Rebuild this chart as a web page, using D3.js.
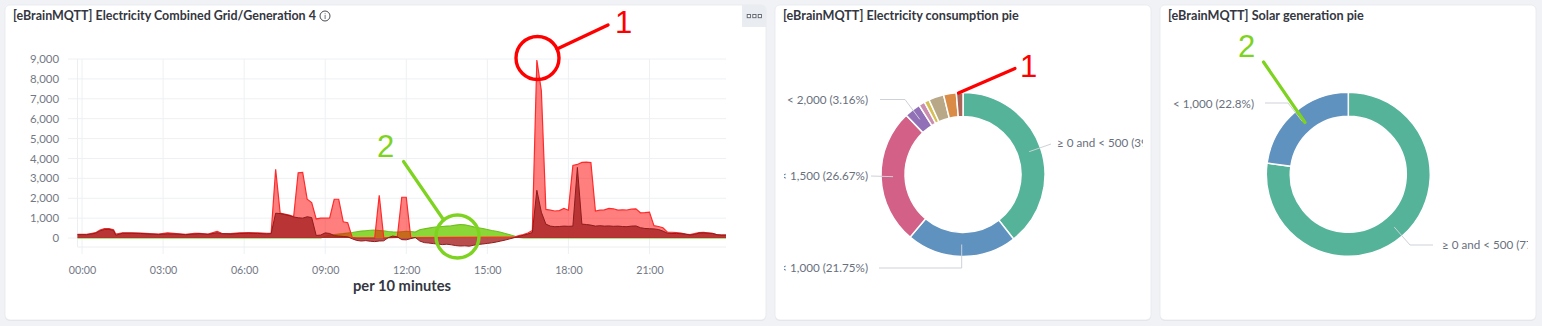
<!DOCTYPE html>
<html><head><meta charset="utf-8">
<script src="https://cdn.jsdelivr.net/npm/d3@7"></script>
<style>
html,body{margin:0;padding:0;background:#f0f2f5;}
svg{display:block;}
</style></head><body>
<svg id="c" width="1542" height="326"></svg>
<script>
// ---------------- DATA ----------------
const yTickValues = [0,1000,2000,3000,4000,5000,6000,7000,8000,9000];
const xTickLabels = ["00:00","03:00","06:00","09:00","12:00","15:00","18:00","21:00"];

// Grid (dark red) – time / value pairs
const gridTimes = ["-00:10","00:10","00:20","00:30","00:40","00:50","01:00","01:10","01:15","01:30","01:50","02:10","02:30","02:50","03:10","03:30","03:50","04:10","04:20","04:40","05:00","05:10","05:30","05:50","06:10","06:30","06:50","07:00","07:10","07:20","07:30","07:40","07:50","08:00","08:10","08:20","08:30","08:40","08:50","09:00","09:10","09:20","09:30","09:40","09:50","10:00","10:10","10:20","10:30","10:40","10:50","11:00","11:10","11:20","11:30","11:40","11:50","12:00","12:10","12:20","12:30","12:40","12:50","13:00","13:10","13:20","13:30","13:40","13:50","14:00","14:10","14:20","14:30","14:40","14:50","15:00","15:10","15:20","15:30","15:40","15:50","16:00","16:10","16:20","16:30","16:40","16:50","17:00","17:10","17:20","17:30","17:40","17:50","18:00","18:10","18:20","18:30","18:40","18:50","19:00","19:10","19:20","19:30","19:40","19:50","20:00","20:10","20:20","20:30","20:40","20:50","21:00","21:10","21:20","21:30","21:40","21:50","22:00","22:10","22:20","22:30","22:40","22:50","23:00","23:10","23:20","23:30","23:40","23:50"];
const gridValues = [170,170,200,240,360,430,440,380,140,240,240,230,200,180,210,200,170,200,220,180,270,220,200,230,240,230,210,220,1250,1230,1180,1130,1060,1020,1000,1070,1030,130,150,260,230,120,100,80,60,-40,-120,-150,-130,-160,-180,-150,-140,20,100,60,-80,-90,-30,30,-150,-230,-250,-280,-300,-330,-310,-340,-380,-400,-390,-410,-360,-320,-300,-270,-240,-200,-150,-100,-40,20,80,140,200,280,2400,1300,700,600,570,580,600,590,600,3550,700,680,650,600,620,600,610,590,600,580,570,600,610,520,480,470,460,430,350,240,230,230,220,200,150,180,250,260,240,230,170,150,150];

// Consumption (light red)
const consTimes = ["-00:10","00:10","00:20","00:30","00:40","00:50","01:00","01:10","01:15","01:30","01:50","02:10","02:30","02:50","03:10","03:30","03:50","04:10","04:20","04:40","05:00","05:10","05:30","05:50","06:10","06:30","06:50","07:00","07:10","07:20","07:30","07:40","07:50","08:00","08:10","08:20","08:30","08:40","08:50","09:00","09:10","09:20","09:30","09:40","09:50","10:00","10:10","10:50","11:00","11:10","11:40","11:50","12:00","12:10","16:00","16:10","16:20","16:30","16:40","16:50","17:00","17:10","17:20","17:30","17:40","17:50","18:00","18:10","18:20","18:30","18:40","18:50","19:00","19:10","19:20","19:30","19:40","19:50","20:00","20:10","20:20","20:30","20:40","20:50","21:00","21:10","21:20","21:30","21:40","21:50","22:00","22:10","22:20","22:30","22:40","22:50","23:00","23:10","23:20","23:30","23:40","23:50"];
const consValues = [190,190,230,270,400,470,470,420,200,260,260,250,220,200,260,220,190,230,240,200,340,240,220,260,270,260,240,240,3450,1250,1200,1150,1080,3280,3300,1950,1780,960,1000,1000,1010,1950,1950,820,770,30,10,10,2150,10,30,2050,2050,20,50,120,170,250,380,8950,7400,1440,1400,1360,1380,1490,1400,3650,3700,3800,3820,3790,1360,1400,1420,1490,1470,1400,1420,1410,1450,1470,1270,1280,1300,620,580,520,300,290,270,250,200,170,220,270,280,260,240,160,150,150];

// Generation (green)
const genTimes = ["-00:10","08:50","09:00","09:10","09:20","09:30","09:40","09:50","10:00","10:10","10:20","10:30","10:40","10:50","11:00","11:10","11:20","11:30","11:40","11:50","12:00","12:10","12:20","12:30","12:40","12:50","13:00","13:10","13:20","13:30","13:40","13:50","14:00","14:10","14:20","14:30","14:40","14:50","15:00","15:10","15:20","15:30","15:40","15:50","16:00","16:10","16:20","23:50"];
const genValues = [0,0,80,150,180,200,220,250,280,320,350,370,390,400,380,360,330,310,300,320,340,330,300,420,460,500,540,560,580,600,620,650,680,660,620,560,520,480,430,380,340,290,230,170,100,30,0,0];

// Pies
const consPieCategories = ["≥ 0 and < 500","< 1,000","< 1,500","< 2,000","< 2,500","< 3,000","< 3,500","< 4,000","≥ 4,000"];
const consPieValues = [39.42,21.75,26.67,3.16,1.2,1.0,3.0,2.5,1.3];
const solarPieCategories = ["≥ 0 and < 500","< 1,000"];
const solarPieValues = [77.2,22.8];
const pieColors = ["#54b399","#6092c0","#d36086","#9170b8","#ca8eae","#d6bf57","#b9a888","#da8b45","#aa6556"];

const titles = ["[eBrainMQTT] Electricity Combined Grid/Generation 4","[eBrainMQTT] Electricity consumption pie","[eBrainMQTT] Solar generation pie"];

// ---------------- DRAW ----------------
const svg = d3.select("#c");
const FONT = "Lato, 'Open Sans', sans-serif";
function fit(sel, w){
  const n = sel.node(); const cur = n.getComputedTextLength();
  const fs = parseFloat(sel.attr("font-size"));
  if (cur>0) sel.attr("font-size", (fs*w/cur).toFixed(2));
  return parseFloat(sel.attr("font-size"));
}

// panels
const panels = [{x:5,y:5,w:761,h:315},{x:775,y:5,w:376,h:315},{x:1160,y:5,w:376,h:315}];
svg.selectAll("rect.shadow").data(panels).join("rect").attr("class","shadow")
  .attr("x",d=>d.x).attr("y",d=>d.y+1).attr("width",d=>d.w).attr("height",d=>d.h).attr("rx",5).attr("fill","#e1e4e9");
svg.selectAll("rect.panel").data(panels).join("rect").attr("class","panel")
  .attr("x",d=>d.x).attr("y",d=>d.y).attr("width",d=>d.w).attr("height",d=>d.h).attr("rx",5)
  .attr("fill","#fff").attr("stroke","#e6e9ee").attr("stroke-width",0.8);

// titles
const titlePos = [{x:13,w:303},{x:783,w:236},{x:1168,w:196}];
titles.forEach((t,i)=>{
  const s = svg.append("text").attr("x",titlePos[i].x).attr("y",20).attr("font-family",FONT)
    .attr("font-weight",700).attr("font-size",12).attr("fill","#343741").text(t);
  fit(s,titlePos[i].w);
});
// info icon
svg.append("circle").attr("cx",325).attr("cy",16).attr("r",5).attr("fill","none").attr("stroke","#343741").attr("stroke-width",0.9);
svg.append("text").attr("x",325).attr("y",19.3).attr("text-anchor","middle").attr("font-family","DejaVu Sans").attr("font-size",7.5).attr("fill","#343741").text("i");
// menu button
const mb = svg.append("g");
mb.append("path").attr("d","M742,5 H761 Q766,5 766,10 V27 H742 Z").attr("fill","#e9ecf1");
[746.7,752.3,757.7].forEach(x=>mb.append("rect").attr("x",x+0.5).attr("y",14.5).attr("width",3.2).attr("height",3.2)
  .attr("fill","#fff").attr("stroke","#5a606b").attr("stroke-width",0.9));

// --- Line/area chart ---
const base = new Date(2024,0,1,0,0);
function parseT(s){ const neg = s[0]==="-"; const [h,m] = s.replace("-","").split(":").map(Number);
  return new Date(base.getTime() + (neg?-1:1)*(h*60+m)*60000); }
const x = d3.scaleTime().domain([parseT("-00:10"), parseT("23:50")]).range([77.5,726]);
const y = d3.scaleLinear().domain([-400,9000]).range([246,59]);

const gGrid = svg.append("g");
yTickValues.forEach(v=>gGrid.append("line").attr("x1",68).attr("x2",726).attr("y1",y(v)).attr("y2",y(v)).attr("stroke","#eef0f3").attr("stroke-width",1));
const xTicks = xTickLabels.map(parseT);
xTicks.forEach(t=>gGrid.append("line").attr("x1",x(t)).attr("x2",x(t)).attr("y1",59).attr("y2",254).attr("stroke","#eef0f3").attr("stroke-width",1));
gGrid.append("line").attr("x1",77.5).attr("x2",77.5).attr("y1",59).attr("y2",247).attr("stroke","#eceef2");
gGrid.append("line").attr("x1",77.5).attr("x2",726).attr("y1",247).attr("y2",247).attr("stroke","#eceef2");

// y axis labels
const yl = svg.append("g").attr("font-family",FONT).attr("fill","#737884");
let yfs = 11;
const probe = yl.append("text").attr("font-size",11).text("9,000");
yfs = fit(probe, 29); probe.remove();
yl.selectAll("text").data(yTickValues).join("text").attr("x",59).attr("y",d=>y(d)+yfs*0.36)
  .attr("text-anchor","end").attr("font-size",yfs).text(d=>d3.format(",")(d));
// x axis labels
const xl = svg.append("g").attr("font-family",FONT).attr("fill","#737884");
const probe2 = xl.append("text").attr("font-size",11).text("00:00");
const xfs = fit(probe2, 27.5); probe2.remove();
xl.selectAll("text").data(xTicks).join("text").attr("x",d=>x(d)+0.5).attr("y",274)
  .attr("text-anchor","middle").attr("font-size",xfs).text(d=>d3.timeFormat("%H:%M")(d));
const xt = svg.append("text").attr("x",402).attr("y",291).attr("text-anchor","middle").attr("font-family",FONT)
  .attr("font-weight",700).attr("font-size",12).attr("fill","#343741").text("per 10 minutes");
fit(xt,98);

function series(times, values){ return times.map((t,i)=>({t:parseT(t), v:values[i]})); }
const area = d3.area().x(d=>x(d.t)).y0(y(0)).y1(d=>y(d.v));
const line = d3.line().x(d=>x(d.t)).y(d=>y(d.v));
const gen = series(genTimes, genValues), cons = series(consTimes, consValues), grid = series(gridTimes, gridValues);

const gc = svg.append("g");
gc.append("path").datum(gen).attr("d",area).attr("fill","#7ed321").attr("fill-opacity",0.9);
gc.append("path").datum(gen).attr("d",line).attr("fill","none").attr("stroke","#6fbf1f").attr("stroke-width",1.1);
gc.append("path").datum(cons).attr("d",area).attr("fill","#ff0000").attr("fill-opacity",0.5);
gc.append("path").datum(cons).attr("d",line).attr("fill","none").attr("stroke","#ff2a2a").attr("stroke-width",1.2);
gc.append("path").datum(grid).attr("d",area).attr("fill","#a82222").attr("fill-opacity",0.8);
gc.append("path").datum(grid).attr("d",line).attr("fill","none").attr("stroke","#8e1c1c").attr("stroke-width",1);

// --- Pies ---
const LABEL_COLOR = "#69707d";
let pfs = 12;
{
  const p = svg.append("text").attr("font-family",FONT).attr("font-size",12).text("< 2,000 (3.16%)");
  pfs = fit(p,81); p.remove();
}
const defs = svg.append("defs");
defs.append("clipPath").attr("id","clipM").append("rect").attr("x",784).attr("y",30).attr("width",359).attr("height",285);
defs.append("clipPath").attr("id","clipR").append("rect").attr("x",1167).attr("y",30).attr("width",361).attr("height",285);

function drawPie(cx, cy, cats, vals, clipId, labels){
  const pie = d3.pie().sort(null).value(d=>d.v);
  const arcs = pie(cats.map((c,i)=>({c, v:vals[i], i})));
  const arc = d3.arc().innerRadius(58).outerRadius(82);
  const mid = d3.arc().innerRadius(70).outerRadius(70);
  const g = svg.append("g").attr("clip-path",`url(#${clipId})`);
  const gp = g.append("g").attr("transform",`translate(${cx},${cy})`);
  gp.selectAll("path").data(arcs).join("path").attr("d",arc)
    .attr("fill",d=>pieColors[d.index]).attr("stroke","#fff").attr("stroke-width",1.5);
  labels.forEach(L=>{
    const a = arcs[L.i];
    const c = mid.centroid(a);
    const cp = [cx+c[0], cy+c[1]];
    const pts = L.pts.map(p=> p==="c" ? cp : (p[0]==="cx" ? [cp[0], p[1]] : p));
    g.append("path").attr("d", d3.line()(pts)).attr("fill","none").attr("stroke","#cdd1d8").attr("stroke-width",1);
    g.append("text").attr("x",L.tx).attr("y",L.ty).attr("text-anchor",L.anchor)
      .attr("font-family",FONT).attr("font-size",pfs).attr("fill",LABEL_COLOR)
      .text(`${a.data.c} (${a.data.v}%)`);
  });
}
drawPie(963,174.5,consPieCategories,consPieValues,"clipM",[
  {i:0, tx:1057, ty:146.5, anchor:"start", pts:["c",[1051,144]]},
  {i:1, tx:868, ty:272, anchor:"end", pts:[[879,268],["cx",268],"c"]},
  {i:2, tx:868, ty:180, anchor:"end", pts:[[871,176],"c"]},
  {i:3, tx:868, ty:104, anchor:"end", pts:[[880,99.5],[905,99.5],"c"]}
]);
drawPie(1348.3,174.3,solarPieCategories,solarPieValues,"clipR",[
  {i:1, tx:1254, ty:107.5, anchor:"end", pts:[[1265,103],[1288,103],"c"]},
  {i:0, tx:1442, ty:248.5, anchor:"start", pts:["c",[1410,245],[1433,245]]}
]);

// --- Annotations (overlay marks) ---
const RED = "#ff0000", GREEN = "#7ed321";
const ann = svg.append("g").attr("fill","none").attr("stroke-linecap","round");
ann.append("circle").attr("cx",537.5).attr("cy",58).attr("r",21.5).attr("stroke",RED).attr("stroke-width",3.4);
ann.append("line").attr("x1",557).attr("y1",49).attr("x2",608).attr("y2",25).attr("stroke",RED).attr("stroke-width",3.4);
ann.append("line").attr("x1",958.5).attr("y1",93).attr("x2",1015).attr("y2",68.5).attr("stroke",RED).attr("stroke-width",3.2);
ann.append("circle").attr("cx",457.5).attr("cy",236.5).attr("r",21.5).attr("stroke",GREEN).attr("stroke-width",3.4);
ann.append("line").attr("x1",403.5).attr("y1",161.5).attr("x2",443).attr("y2",219).attr("stroke",GREEN).attr("stroke-width",3.2);
ann.append("line").attr("x1",1263.5).attr("y1",62).attr("x2",1305).attr("y2",122.5).attr("stroke",GREEN).attr("stroke-width",3.2);
const annT = svg.append("g").attr("font-family","'Liberation Sans', Arial, sans-serif").attr("font-size",31).attr("text-anchor","middle");
annT.append("text").attr("x",623.5).attr("y",33).attr("fill",RED).text("1");
annT.append("text").attr("x",1028.5).attr("y",77).attr("fill",RED).text("1");
annT.append("text").attr("x",385.5).attr("y",157).attr("fill",GREEN).text("2");
annT.append("text").attr("x",1246.5).attr("y",57).attr("fill",GREEN).text("2");
</script>
</body></html>
